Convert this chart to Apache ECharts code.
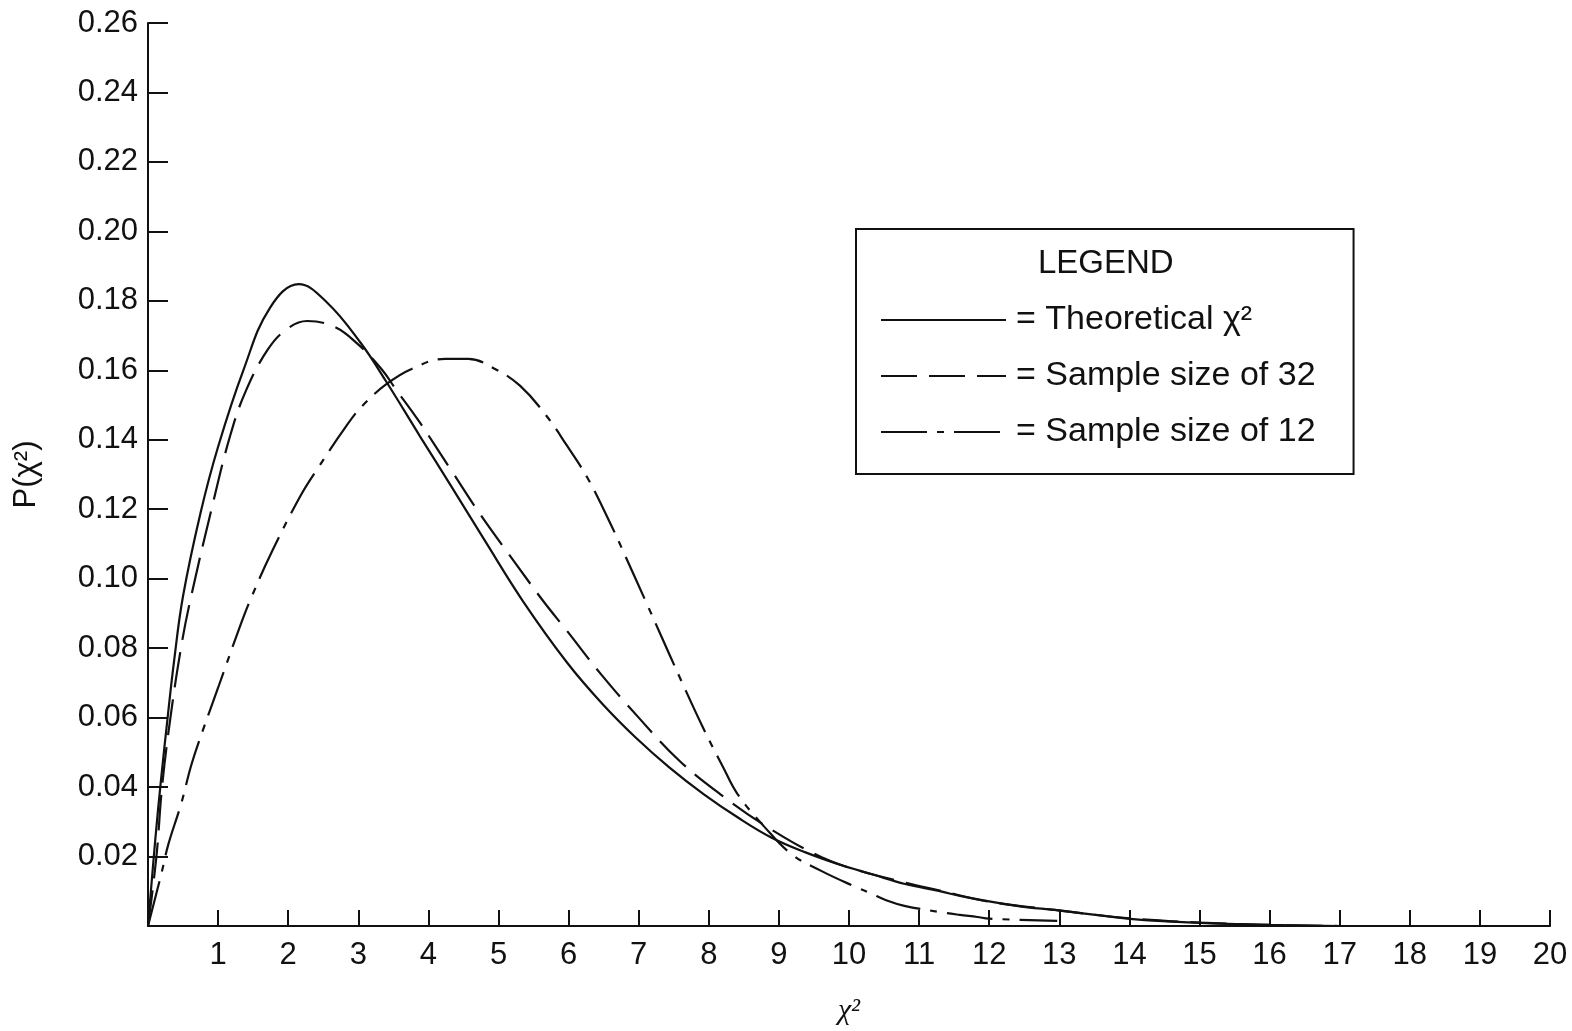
<!DOCTYPE html>
<html>
<head>
<meta charset="utf-8">
<script src="https://cdn.jsdelivr.net/npm/echarts@6/dist/echarts.min.js"></script>
<style>
  html, body { margin: 0; padding: 0; background: #fff; }
  #chart { width: 1572px; height: 1031px; }
</style>
</head>
<body>
<div id="chart"></div>
<script>
// ---- data ----
const seriesNames = ['Theoretical \u03c7\u00b2', 'Sample size of 32', 'Sample size of 12'];

const theoX = [0, 0.1, 0.18, 0.28, 0.37, 0.5, 0.75, 1.0, 1.36, 1.74, 2.15, 2.55, 3.03, 3.4, 3.88, 4.32, 4.81, 5.35, 5.98, 6.48, 6.96, 7.44, 7.93, 8.41, 8.89, 9.38, 9.85, 10.33, 10.8, 11.28, 11.67, 12.39, 12.98, 14.05, 15.0, 16.0, 17.0];
const theoY = [0, 0.024, 0.041, 0.06, 0.076, 0.095, 0.119, 0.138, 0.16, 0.178, 0.1848, 0.1796, 0.168, 0.1567, 0.141, 0.1268, 0.1108, 0.0935, 0.0758, 0.064, 0.0542, 0.0456, 0.0379, 0.0313, 0.0255, 0.0212, 0.0178, 0.0149, 0.0121, 0.0101, 0.0083, 0.0058, 0.0045, 0.002, 0.0009, 0.0003, 0];

const s32X = [0, 0.12, 0.2, 0.32, 0.47, 0.6, 0.93, 1.17, 1.39, 1.71, 1.99, 2.27, 2.66, 2.99, 3.33, 3.53, 3.87, 4.31, 4.75, 5.24, 5.64, 5.98, 6.47, 7.0, 7.58, 8.16, 8.89, 9.61, 10.1, 10.8, 11.28, 12.0, 13.0, 14.0, 15.0, 16.0, 17.0];
const s32Y = [0, 0.02, 0.04, 0.06, 0.08, 0.0935, 0.122, 0.141, 0.1538, 0.166, 0.172, 0.1742, 0.1725, 0.1676, 0.1604, 0.1547, 0.1452, 0.1317, 0.1182, 0.1045, 0.0935, 0.0849, 0.0723, 0.06, 0.0476, 0.038, 0.0278, 0.0198, 0.0162, 0.0125, 0.0103, 0.007, 0.0045, 0.0022, 0.001, 0.0003, 0];

const s12X = [0, 0.19, 0.29, 0.47, 0.62, 0.78, 1.0, 1.32, 1.47, 1.77, 2.18, 2.42, 2.83, 3.06, 3.4, 3.76, 4.24, 4.57, 4.95, 5.31, 5.68, 5.97, 6.27, 6.57, 6.81, 7.1, 7.31, 7.61, 7.92, 8.21, 8.41, 8.8, 9.18, 9.61, 10.1, 10.3, 10.53, 10.79, 11.3, 11.58, 11.83, 12.0, 12.97];
const s12Y = [0, 0.015, 0.0235, 0.035, 0.0465, 0.0562, 0.0686, 0.0867, 0.0944, 0.1079, 0.124, 0.1317, 0.144, 0.1498, 0.156, 0.1604, 0.1633, 0.1633, 0.1604, 0.1555, 0.147, 0.1385, 0.129, 0.117, 0.1065, 0.0935, 0.084, 0.0705, 0.057, 0.0455, 0.038, 0.0284, 0.0207, 0.0158, 0.0112, 0.0095, 0.0074, 0.0058, 0.004, 0.0032, 0.0026, 0.0021, 0.0015];

const xMin = 0, xMax = 20, xStep = 1;
const yMin = 0, yMax = 0.26, yStep = 0.02;

// ---- build ----
function pairs(xs, ys) { return xs.map((x, i) => [x, ys[i]]); }

const FONT = '"Liberation Sans", Arial, Helvetica, sans-serif';
const INK = '#111';

const chart = echarts.init(document.getElementById('chart'), null, { renderer: 'canvas' });

const lineDefs = [
  { data: pairs(theoX, theoY), type: 'solid' },
  { data: pairs(s32X, s32Y), type: [36, 12] },
  { data: pairs(s12X, s12Y), type: [46, 10, 7, 10] }
];

chart.setOption({
  backgroundColor: '#fff',
  animation: false,
  textStyle: { fontFamily: FONT, color: INK },
  grid: { left: 148, right: 22, top: 23, bottom: 102, containLabel: false },
  xAxis: {
    type: 'value', min: xMin, max: xMax, interval: xStep,
    name: '\u03c7\u00b2', nameLocation: 'middle', nameGap: 70,
    nameTextStyle: { fontSize: 30, color: INK, fontFamily: '"Liberation Serif", serif', fontStyle: 'italic' },
    axisLine: { show: true, lineStyle: { color: INK, width: 2 } },
    axisTick: { show: true, inside: true, length: 16, lineStyle: { color: INK, width: 2 } },
    axisLabel: {
      fontSize: 31, color: INK, margin: 14,
      formatter: v => (v === 0 ? '' : String(v))
    },
    splitLine: { show: false }
  },
  yAxis: {
    type: 'value', min: yMin, max: yMax, interval: yStep,
    name: 'P(\u03c7\u00b2)', nameLocation: 'middle', nameGap: 106,
    nameTextStyle: { fontSize: 31, color: INK },
    axisLine: { show: true, lineStyle: { color: INK, width: 2 } },
    axisTick: { show: true, inside: true, length: 20, lineStyle: { color: INK, width: 2 } },
    axisLabel: {
      fontSize: 31, color: INK, margin: 10,
      formatter: v => (v === 0 ? '' : v.toFixed(2))
    },
    splitLine: { show: false }
  },
  legend: {
    show: true,
    orient: 'vertical',
    left: 856, top: 229,
    data: seriesNames,
    backgroundColor: '#fff',
    borderColor: INK, borderWidth: 2, borderRadius: 0,
    padding: [71, 38, 22, 24],
    itemWidth: 125, itemHeight: 20, itemGap: 16,
    itemStyle: { opacity: 0, borderWidth: 0 },
    formatter: name => '= ' + name,
    textStyle: { fontSize: 34, color: INK, lineHeight: 40, fontFamily: FONT, padding: [0, 0, 0, 5] },
    selectedMode: false
  },
  graphic: [{
    type: 'text', left: 1038, top: 247, z: 100,
    style: { text: 'LEGEND', fontSize: 33, fontFamily: FONT, fill: INK }
  }],
  series: lineDefs.map((d, i) => ({
    name: seriesNames[i],
    type: 'line',
    data: d.data,
    smooth: 0.4,
    symbol: 'none',
    showSymbol: false,
    lineStyle: { color: INK, width: 2.2, type: d.type },
    itemStyle: { color: INK },
    z: 3 - i
  }))
});
</script>
</body>
</html>
